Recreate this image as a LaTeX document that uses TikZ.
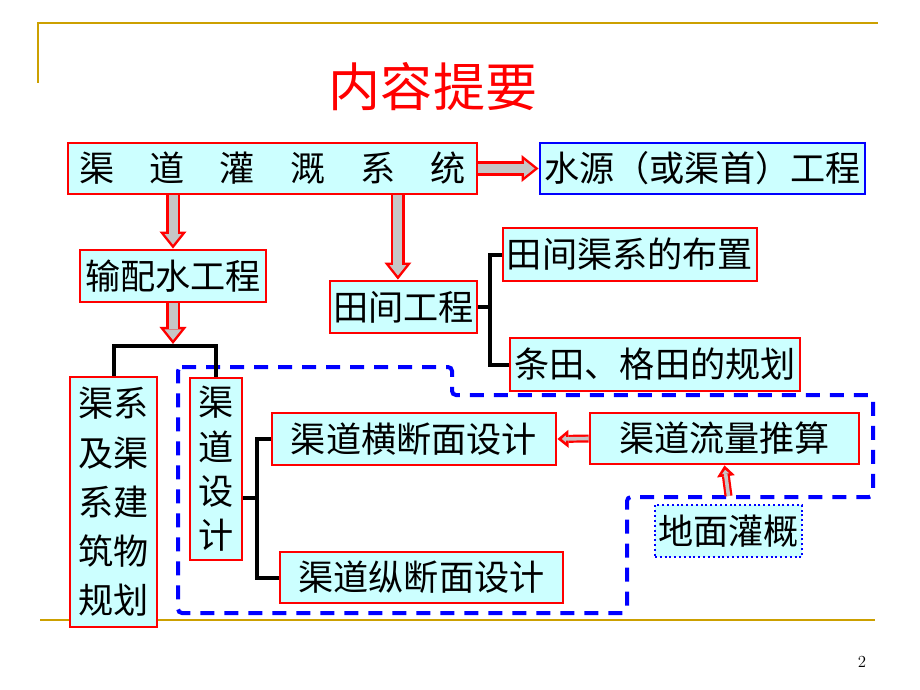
\documentclass[tikz,border=0pt]{standalone}
\usepackage{fontspec}
\usepackage{xcolor}
\usetikzlibrary{arrows.meta}
\newfontfamily\cjk{Noto Sans CJK SC}
\definecolor{boxfill}{RGB}{204,255,255}
\definecolor{rulegold}{RGB}{204,160,0}
\tikzset{
  basenode/.style = {align=center, inner sep=0pt, text centered, fill=boxfill, font=\cjk\fontsize{25}{25}\selectfont},
  red_node/.style = {basenode, rectangle, draw=red, line width=0.07cm},
  blue_node/.style = {basenode, rectangle, draw=blue, line width=0.07cm},
  dot_node/.style = {basenode, rectangle, draw=blue, dotted, line width=0.05cm},
  title_node/.style = {text=red, font=\cjk\fontsize{37}{37}\selectfont},
  fork_line/.style = {draw=black, line width=0.1cm},
  region_line/.style = {draw=blue, line width=0.1cm, dash pattern=on 0.35cm off 0.25cm, rounded corners=0.1cm},
  big_arrow/.style = {draw=red, line width=0.35cm, -{Triangle[length=0.425cm, width=0.675cm, line width=0pt]},
    postaction={draw=gray!45, line width=0.225cm, shorten >=0.1cm, -{Triangle[length=0.2625cm, width=0.42cm, line width=0pt]}}},
  small_arrow/.style = {draw=red, line width=0.2cm, -{Triangle[length=0.275cm, width=0.45cm, line width=0pt]},
    postaction={draw=gray!45, line width=0.09cm, shorten >=0.11cm, -{Triangle[length=0.1cm, width=0.18cm, line width=0pt]}}},
}

\begin{document}
\begin{tikzpicture}[x=0.025cm, y=-0.025cm]
    \useasboundingbox (0,0) rectangle (920,690);
    % slide rules
    \draw[rulegold, line width=0.05cm] (38,83) -- (38,23) -- (878,23);
    \draw[rulegold, line width=0.05cm] (40,620) -- (875,620);
    \node [title_node] (title) at (433,87) {内容提要};
    \node [font=\fontsize{12}{12}\selectfont] (page) at (862,662) {2};

    % dashed design region
    \draw[region_line] (178,367) -- (452,367) -- (452,395) -- (873,395) -- (873,497)
        -- (627,497) -- (627,613) -- (178,613) -- cycle;

    \node [red_node, minimum width=10.225cm, minimum height=1.275cm] (sys) at (272.5,168.5)
        {渠\hspace{1em}道\hspace{1em}灌\hspace{1em}溉\hspace{1em}系\hspace{1em}统};
    \node [blue_node, minimum width=8.125cm, minimum height=1.275cm] (src) at (702.5,168.5) {水源（或渠首）工程};
    \node [red_node, minimum width=4.65cm, minimum height=1.3cm] (conv) at (173,276) {输配水工程};
    \node [red_node, minimum width=3.675cm, minimum height=1.3cm] (field) at (403.5,307) {田间工程};
    \node [red_node, minimum width=6.35cm, minimum height=1.325cm] (layout) at (630,254.5) {田间渠系的布置};
    \node [red_node, minimum width=7.25cm, minimum height=1.325cm] (strip) at (655,364.5) {条田、格田的规划};
    \node [red_node, minimum width=2.175cm, minimum height=6.25cm, font=\cjk\fontsize{25}{35}\selectfont] (plan) at (113.5,502)
        {渠系\\及渠\\系建\\筑物\\规划};
    \node [red_node, minimum width=1.3cm, minimum height=4.55cm, font=\cjk\fontsize{25}{31.5}\selectfont] (design) at (216,469)
        {渠\\道\\设\\计};
    \node [red_node, minimum width=7.1cm, minimum height=1.3cm] (cross) at (414,439) {渠道横断面设计};
    \node [red_node, minimum width=7.075cm, minimum height=1.275cm] (long) at (421.5,577.5) {渠道纵断面设计};
    \node [red_node, minimum width=6.725cm, minimum height=1.275cm] (flow) at (724.5,438.5) {渠道流量推算};
    \node [dot_node, minimum width=3.675cm, minimum height=1.3cm] (irr) at (728.5,531) {地面灌概};

    % forks
    \coordinate (conv_fork) at (173,346);
    \coordinate (field_fork) at (490,307);
    \coordinate (design_fork) at (257,498);
    \draw[fork_line] (plan.north) |- (conv_fork) -| (design.north);
    \draw[fork_line] (field.east) -- (field_fork);
    \draw[fork_line] (layout.west) -| (field_fork) |- (strip.west);
    \draw[fork_line] (design.east |- design_fork) -- (design_fork);
    \draw[fork_line] (cross.west) -| (design_fork) |- (long.west);

    % block arrows
    \draw[big_arrow] (sys.east) -- (src.west);
    \draw[big_arrow] (sys.south -| conv.north) -- (conv.north);
    \draw[big_arrow] ([xshift=-0.14cm]field.north |- sys.south) -- ([xshift=-0.14cm]field.north);
    \draw[big_arrow] (conv.south) -- ([yshift=0.05cm]conv_fork);
    \draw[small_arrow] (flow.west) -- (cross.east);
    \draw[small_arrow] ([yshift=0.2cm]irr.north) -- (flow.south);
\end{tikzpicture}
\end{document}
